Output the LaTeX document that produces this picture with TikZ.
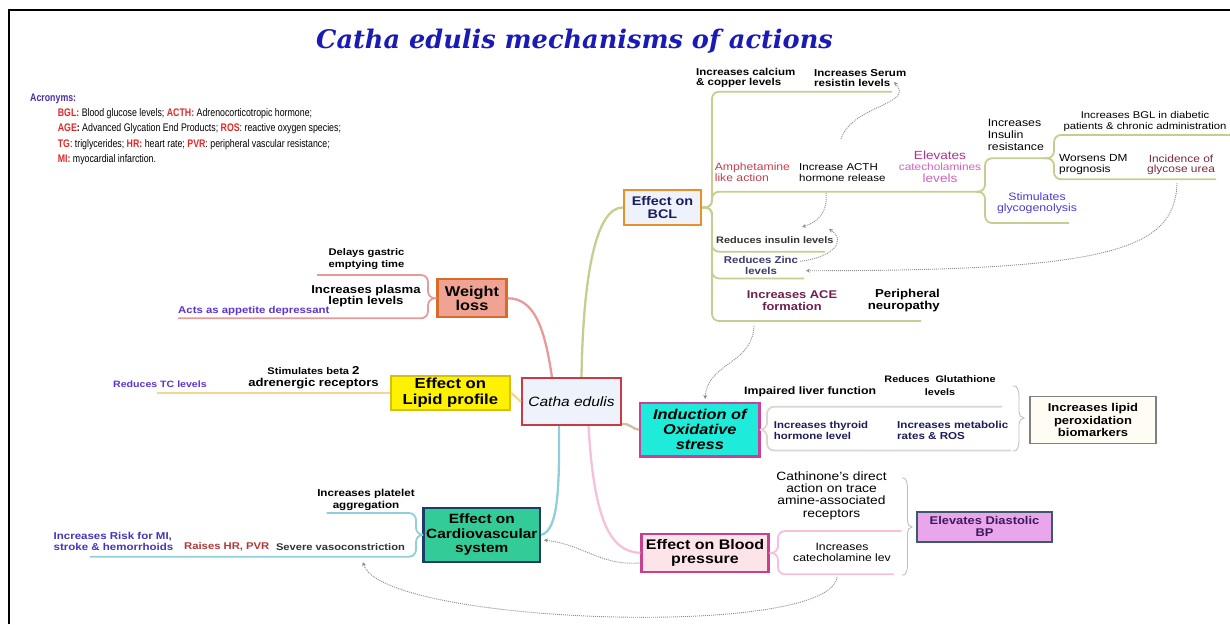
\documentclass[tikz,border=0pt]{standalone}
\usepackage{fontspec}
\setmainfont{Liberation Sans}[FakeStretch=1.15]
\newfontfamily\condfont{Liberation Sans}[FakeStretch=0.8]
\newfontfamily\titlefont{DejaVu Serif}
\usetikzlibrary{arrows.meta}
\definecolor{titleblue}{HTML}{1A1AB4}
\definecolor{acrred}{HTML}{E02828}
\definecolor{acrhead}{HTML}{4A2EA8}
\definecolor{bclline}{HTML}{C8CC90}
\definecolor{wlline}{HTML}{E89A9A}
\definecolor{lipline}{HTML}{F0D890}
\definecolor{cvline}{HTML}{90CEDC}
\definecolor{bpline}{HTML}{F4C0DC}
\definecolor{oxline}{HTML}{DCD6D2}
\definecolor{dotgray}{HTML}{8C8C8C}
\definecolor{navytxt}{HTML}{1C1C5C}
\definecolor{purptxt}{HTML}{5A34D0}
\definecolor{amph}{HTML}{C0404A}
\definecolor{magtxt}{HTML}{B03090}
\definecolor{pinktxt}{HTML}{D060C0}
\definecolor{glyc}{HTML}{7A2A3A}
\definecolor{stim}{HTML}{4A3AD0}
\definecolor{acetxt}{HTML}{6E2050}
\definecolor{zinctxt}{HTML}{3A3A6E}
\definecolor{raise}{HTML}{B03838}
\definecolor{catfill}{HTML}{EEF3FB}
\definecolor{catdraw}{HTML}{C83A46}
\definecolor{bcldraw}{HTML}{E8902A}
\definecolor{wlfill}{HTML}{F0A392}
\definecolor{wldraw}{HTML}{D86A2A}
\definecolor{lipdraw}{HTML}{D4C010}
\definecolor{oxfill}{HTML}{1EEBD9}
\definecolor{oxdraw}{HTML}{C8409C}
\definecolor{cvfill}{HTML}{33CC99}
\definecolor{cvdraw}{HTML}{1C3D6B}
\definecolor{bpfill}{HTML}{FCE4E8}
\definecolor{bpdraw}{HTML}{C8408C}
\definecolor{pxfill}{HTML}{FFFDF3}
\definecolor{dsfill}{HTML}{EAA6EA}
\definecolor{dsdraw}{HTML}{3C5A6A}
\definecolor{dstxt}{HTML}{3A1A5A}
\newcommand\fsz[2]{\fontsize{#1}{#2}\selectfont}
\newcommand\mmb[4][]{\draw[rounded corners=7pt,line width=1.8pt,#1] (#2) -| (#3) -- (#4);}
\tikzset{
  box/.style={draw, line width=2.2pt, inner sep=0pt, align=center, font=\bfseries\fsz{12.5}{14}},
  lbl/.style={align=center, inner sep=0pt},
  dotarrow/.style={draw=dotgray, line width=0.9pt, dash pattern=on 1pt off 1pt, -{Stealth[length=4pt,width=4pt]}},
  mainline/.style={line width=2.3pt},
  brk/.style={draw=gray!50, line width=0.9pt}
}
\begin{document}
\begin{tikzpicture}[x=1pt,y=-1pt]
\useasboundingbox (0,0) rectangle (1230,624);
% frame
\draw[line width=1.4pt] (9,624) -- (9,10) -- (1232,10);
% title
\node[lbl, font=\titlefont\bfseries\itshape\fsz{25.6}{28}, text=titleblue] (title) at (574.5,41) {Catha edulis mechanisms of actions};
% acronyms
\node[lbl, anchor=west, font=\condfont\bfseries\fsz{11}{12}, text=acrhead] (acr) at (30,99) {Acronyms:};
\node[lbl, anchor=west, font=\condfont\fsz{11}{12}] (acr1) at (57.6,113.5) {\textcolor{acrred}{\bfseries BGL:} Blood glucose levels; \textcolor{acrred}{\bfseries ACTH:} Adrenocorticotropic hormone;};
\node[lbl, anchor=west, font=\condfont\fsz{11}{12}] (acr2) at (57.6,129) {\textcolor{acrred}{\bfseries AGE}\textbf{:} Advanced Glycation End Products; \textcolor{acrred}{\bfseries ROS}: reactive oxygen species;};
\node[lbl, anchor=west, font=\condfont\fsz{11}{12}] (acr3) at (57.6,144.5) {\textcolor{acrred}{\bfseries TG}: triglycerides; \textcolor{acrred}{\bfseries HR:} heart rate; \textcolor{acrred}{\bfseries PVR}: peripheral vascular resistance;};
\node[lbl, anchor=west, font=\condfont\fsz{11}{12}] (acr4) at (57.6,160) {\textcolor{acrred}{\bfseries MI:} myocardial infarction.};

% main boxes
\node[box, draw=catdraw, fill=catfill, minimum width=99pt, minimum height=47pt, font=\itshape\fsz{13.5}{15}] (cat) at (571.5,401.5) {Catha edulis};
\node[box, draw=bcldraw, fill=catfill, text=navytxt, minimum width=77pt, minimum height=35pt, font=\bfseries\fsz{12.5}{13.5}] (bcl) at (662.5,207.5) {Effect on\\BCL};
\node[box, draw=wldraw, fill=wlfill, minimum width=69pt, minimum height=38pt, font=\bfseries\fsz{14.2}{14.3}] (wl) at (472,298.3) {Weight\\loss};
\node[box, draw=lipdraw, fill=yellow, minimum width=119pt, minimum height=34pt, font=\bfseries\fsz{14.5}{15.5}] (lip) at (450.4,392.8) {Effect on\\Lipid profile};
\node[box, draw=oxdraw, fill=oxfill, minimum width=119.5pt, minimum height=53.5pt, font=\bfseries\itshape\fsz{14.2}{15}] (ox) at (699.8,429.8) {Induction of\\Oxidative\\stress};
\node[box, draw=cvdraw, fill=cvfill, minimum width=116.5pt, minimum height=53.7pt, font=\bfseries\fsz{13.4}{14.7}] (cv) at (481.8,534.8) {Effect on\\Cardiovascular\\system};
\node[box, draw=bpdraw, fill=bpfill, minimum width=127pt, minimum height=37.7pt, font=\bfseries\fsz{13.9}{14.4}] (bp) at (705,552.9) {Effect on Blood\\pressure};
\node[box, draw=gray, line width=1.5pt, fill=pxfill, minimum width=126pt, minimum height=46.6pt, font=\bfseries\fsz{11.3}{12.5}] (perox) at (1093,420) {Increases lipid\\peroxidation\\biomarkers};
\node[box, draw=dsdraw, line width=1.8pt, fill=dsfill, text=dstxt, minimum width=135pt, minimum height=30pt, font=\bfseries\fsz{11.2}{12}] (dias) at (984.5,526.6) {Elevates Diastolic\\BP};

% main connectors
\draw[mainline, draw=wlline] (cat.north west) ++(31,0) .. controls (545,330) and (535,298) .. (wl.east);
\draw[mainline, draw=bclline] (cat.north) ++(10,0) .. controls (583,280) and (595,207) .. (bcl.west);
\draw[mainline, draw=lipline] (cat.west) -- (lip.east);
\draw[mainline, draw=oxline!70!brown] (cat.south east) ++(0,-2) .. controls (630,423) and (632,429) .. (ox.west);
\draw[mainline, draw=cvline] (cat.south west) ++(38,0) .. controls (560,500) and (556,531) .. (cv.east);
\draw[mainline, draw=bpline] (cat.south) ++(17,0) .. controls (594,520) and (610,552) .. (bp.west);

% BCL branches
\mmb[draw=bclline]{bcl.east}{712,91.7}{892,91.7}
\mmb[draw=bclline]{bcl.east}{712,191.7}{978,191.7}
\mmb[draw=bclline]{bcl.east}{712,251.7}{825,251.7}
\mmb[draw=bclline]{bcl.east}{712,278.5}{804,278.5}
\mmb[draw=bclline]{bcl.east}{712,321}{921,321}
\coordinate (ins) at (976,191.7);
\mmb[draw=bclline]{ins}{985,158.3}{1046,158.3}
\mmb[draw=bclline]{ins}{985,223}{1069,223}
\coordinate (bglr) at (1044,158.3);
\mmb[draw=bclline]{bglr}{1054,135}{1230,135}
\mmb[draw=bclline]{bglr}{1054,179.3}{1216,179.3}

% BCL texts
\node[lbl, anchor=west, align=left, font=\bfseries\fsz{10}{10.6}] (calc) at (696,78) {Increases calcium\\\& copper levels};
\node[lbl, anchor=west, align=left, font=\bfseries\fsz{10}{10.6}] (serum) at (814,78) {Increases Serum\\resistin levels};
\node[lbl, anchor=west, align=left, font=\fsz{10.6}{11}, text=amph] (amphn) at (714.6,172.2) {Amphetamine\\like action};
\node[lbl, anchor=west, align=left, font=\fsz{10}{11}] (acth) at (799,172.2) {Increase ACTH\\hormone release};
\node[lbl, text=magtxt, font=\fsz{11.8}{11.4}] (elev) at (940,166.4) {Elevates\\{\fsz{10.3}{11.4}\color{pinktxt}catecholamines}\\{\color{pinktxt}levels}};
\node[lbl, anchor=west, align=left, font=\fsz{10.7}{12}] (insres) at (987.6,134.8) {Increases\\Insulin\\resistance};
\node[lbl, font=\fsz{9.8}{10.7}] (bgl) at (1145,121.3) {Increases BGL in diabetic\\patients \& chronic administration};
\node[lbl, anchor=west, align=left, font=\fsz{10.3}{10.7}] (worse) at (1059,164.7) {Worsens DM\\prognosis};
\node[lbl, font=\fsz{10.4}{10.7}, text=glyc] (glycn) at (1181,164.7) {Incidence of\\glycose urea};
\node[lbl, font=\fsz{10.7}{10.7}, text=stim] (stimn) at (1037,203) {Stimulates\\glycogenolysis};
\node[lbl, anchor=west, font=\bfseries\fsz{9.5}{11}, text=black!80] (insl) at (716,240) {Reduces insulin levels};
\node[lbl, font=\bfseries\fsz{9.9}{10.7}, text=zinctxt] (zinc) at (761,265.3) {Reduces Zinc\\levels};
\node[lbl, font=\bfseries\fsz{11.2}{11.7}, text=acetxt] (ace) at (792,300.8) {Increases ACE\\formation};
\node[lbl, anchor=east, align=right, font=\bfseries\fsz{11.5}{11.7}] (peri) at (940,300.8) {Peripheral\\neuropathy};

% dotted arrows around BCL
\draw[dotarrow] (841,139) .. controls (852,105) and (915,105) .. (894,82);
\draw[dotarrow] (826,193) .. controls (828,212) and (818,222) .. (802,227);
\draw[dotarrow] (zinc.east) ++(2,-4) .. controls (830,258) and (848,242) .. (829,229);
\draw[dotarrow] (1177,183) .. controls (1175,250) and (1110,271) .. (806,270.7);
\draw[dotarrow] (754,326) .. controls (752,365) and (708,362) .. (705,399);

% Oxidative branches
\mmb[draw=oxline]{ox.east}{767,406.7}{1002,406.7}
\mmb[draw=oxline]{ox.east}{767,450.5}{1011,450.5}
\node[lbl, anchor=west, font=\bfseries\fsz{10.7}{11}] (liver) at (744,391.7) {Impaired liver function};
\node[lbl, font=\bfseries\fsz{9.4}{12.7}] (glut) at (940,385.3) {Reduces~ Glutathione\\levels};
\node[lbl, anchor=west, align=left, font=\bfseries\fsz{9.9}{11}, text=navytxt] (thy) at (773.7,430.5) {Increases thyroid\\hormone level};
\node[lbl, anchor=west, align=left, font=\bfseries\fsz{10.1}{11}, text=navytxt] (meta) at (897,430.5) {Increases metabolic\\rates \& ROS};
\draw[brk] (1013,386) to[out=20,in=90] (1019,396) -- (1019,412) to[out=-90,in=180] (1024,418) to[out=180,in=90] (1019,424) -- (1019,441) to[out=-90,in=-20] (1013,451);

% Blood pressure branches
\mmb[draw=bpline]{bp.east}{778,531}{901.6,531}
\mmb[draw=bpline]{bp.east}{778,574.3}{894,574.3}
\node[lbl, font=\fsz{12}{12.3}] (cathn) at (831.5,495.7) {Cathinone's direct\\action on trace\\amine-associated\\receptors};
\node[lbl, font=\fsz{10.6}{11.3}] (catl) at (842,552.7) {Increases\\catecholamine lev};
\draw[brk] (902,478) to[out=20,in=90] (907.5,488) -- (907.5,521) to[out=-90,in=180] (912,527) to[out=180,in=90] (907.5,533) -- (907.5,565) to[out=-90,in=-20] (902,575);
\draw[dotarrow] (837,577) .. controls (830,640) and (380,624) .. (363,562);
\draw[dotarrow] (bp.west) ++(0,10) .. controls (600,566) and (585,545) .. (543.8,540);

% Weight loss branches
\mmb[draw=wlline]{wl.west}{428,275}{317,275}
\mmb[draw=wlline]{wl.west}{428,318.3}{178,318.3}
\node[lbl, font=\bfseries\fsz{9.7}{11.7}] (delay) at (366.5,259.2) {Delays gastric\\emptying time};
\node[lbl, font=\bfseries\fsz{11.4}{11}] (lep) at (366,296.3) {Increases plasma\\leptin levels};
\node[lbl, anchor=west, font=\bfseries\fsz{9.9}{11}, text=purptxt] (acts) at (178,311.3) {Acts as appetite depressant};

% Lipid branch
\draw[line width=1.8pt, draw=lipline] (lip.west) -- (157,392.8);
\node[lbl, font=\bfseries\fsz{9.6}{12.3}] (beta) at (313.5,378) {Stimulates beta {\fsz{11.5}{12.3}2}\\{\fsz{11.4}{12.3}adrenergic receptors}};
\node[lbl, anchor=west, font=\bfseries\fsz{9.2}{11}, text=purptxt] (tc) at (113,384) {Reduces TC levels};

% Cardio branches
\mmb[draw=cvline]{cv.west}{416,513}{326.5,513}
\mmb[draw=cvline]{cv.west}{416,556.7}{90,556.7}
\node[lbl, font=\bfseries\fsz{10.1}{11.7}] (plat) at (366,500) {Increases platelet\\aggregation};
\node[lbl, anchor=west, align=left, font=\bfseries\fsz{10}{11.3}, text=stim!90!black] (risk) at (53.5,541.7) {Increases Risk for MI,\\stroke \& hemorrhoids};
\node[lbl, anchor=west, font=\bfseries\fsz{9.8}{11}, text=raise] (raisen) at (184,547) {Raises HR, PVR};
\node[lbl, anchor=west, font=\bfseries\fsz{9.7}{11}, text=black!80] (sev) at (275.8,547) {Severe vasoconstriction};
\end{tikzpicture}
\end{document}
